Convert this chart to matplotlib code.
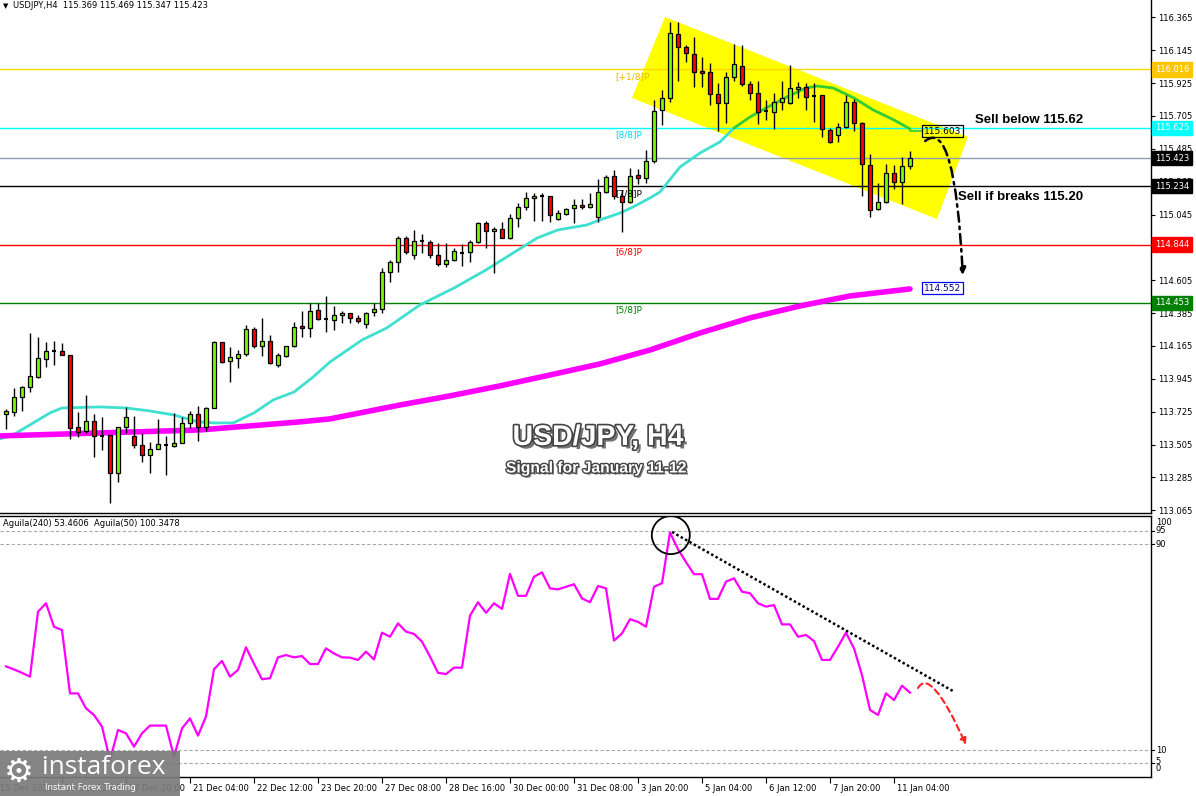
import matplotlib
matplotlib.use('Agg')
import numpy as np
import matplotlib.pyplot as plt
from matplotlib.patches import Polygon, Ellipse, FancyArrowPatch, Rectangle
from matplotlib.path import Path
import matplotlib.patheffects as pe

# ---------------- data ----------------
opens = [113.710, 113.724, 113.824, 113.891, 113.958, 114.078, 114.132, 114.132, 114.105, 113.623,
         113.596, 113.663, 113.563, 113.570, 113.315, 113.623, 113.563, 113.503, 113.436, 113.476,
         113.503, 113.496, 113.516, 113.650, 113.710, 113.623, 113.750, 114.192, 114.065, 114.085,
         114.112, 114.279, 114.165, 114.199, 114.038, 114.098, 114.165, 114.299, 114.286, 114.406,
         114.346, 114.339, 114.373, 114.386, 114.353, 114.313, 114.393, 114.413, 114.661, 114.727,
         114.888, 114.774, 114.868, 114.861, 114.774, 114.714, 114.741, 114.788, 114.794, 114.861,
         114.989, 114.935, 114.948, 114.888, 115.022, 115.096, 115.156, 115.169, 115.169, 115.015,
         115.049, 115.089, 115.109, 115.096, 115.029, 115.196, 115.303, 115.169, 115.129, 115.310,
         115.290, 115.403, 115.745, 115.825, 116.253, 116.166, 116.120, 116.006, 115.999, 115.852,
         115.792, 115.966, 116.039, 115.919, 115.859, 115.738, 115.731, 115.798, 115.792, 115.885,
         115.899, 115.838, 115.845, 115.611, 115.577, 115.631, 115.798, 115.658, 115.377, 115.082,
         115.129, 115.323, 115.263, 115.369]
highs = [113.744, 113.884, 113.898, 114.252, 114.226, 114.192, 114.199, 114.185, 114.105, 113.724,
         113.837, 113.710, 113.690, 113.570, 113.623, 113.757, 113.697, 113.583, 113.523, 113.677,
         113.563, 113.717, 113.690, 113.730, 113.764, 113.757, 114.199, 114.192, 114.159, 114.138,
         114.306, 114.292, 114.353, 114.239, 114.118, 114.165, 114.326, 114.400, 114.453, 114.453,
         114.500, 114.433, 114.400, 114.386, 114.373, 114.393, 114.453, 114.687, 114.741, 114.902,
         114.902, 114.942, 114.915, 114.875, 114.855, 114.855, 114.821, 114.848, 114.875, 114.995,
         115.002, 114.962, 114.995, 115.049, 115.122, 115.196, 115.189, 115.189, 115.169, 115.076,
         115.089, 115.149, 115.149, 115.189, 115.283, 115.310, 115.343, 115.209, 115.357, 115.350,
         115.477, 115.812, 115.879, 116.334, 116.334, 116.180, 116.233, 116.099, 116.059, 115.925,
         115.999, 116.186, 116.180, 115.939, 115.939, 115.812, 115.859, 115.939, 116.046, 115.932,
         115.925, 115.925, 115.845, 115.624, 115.658, 115.845, 115.818, 115.664, 115.450, 115.256,
         115.383, 115.377, 115.430, 115.469]
lows = [113.610, 113.697, 113.730, 113.857, 113.951, 114.025, 114.038, 114.105, 113.543, 113.556,
        113.583, 113.422, 113.469, 113.114, 113.255, 113.583, 113.482, 113.389, 113.315, 113.476,
        113.302, 113.489, 113.516, 113.616, 113.529, 113.596, 113.750, 114.051, 113.924, 114.018,
        114.098, 114.152, 114.098, 114.045, 114.025, 114.092, 114.159, 114.226, 114.226, 114.339,
        114.259, 114.272, 114.319, 114.319, 114.319, 114.286, 114.366, 114.386, 114.594, 114.661,
        114.781, 114.747, 114.788, 114.754, 114.701, 114.694, 114.734, 114.701, 114.727, 114.855,
        114.821, 114.654, 114.888, 114.881, 114.962, 115.076, 115.002, 115.002, 114.995, 115.009,
        115.042, 114.989, 115.082, 115.089, 114.995, 115.189, 115.149, 114.928, 115.122, 115.250,
        115.256, 115.390, 115.644, 115.798, 115.939, 116.066, 115.899, 115.899, 115.778, 115.604,
        115.658, 115.939, 115.905, 115.812, 115.651, 115.678, 115.618, 115.745, 115.785, 115.825,
        115.745, 115.664, 115.564, 115.524, 115.531, 115.624, 115.604, 115.169, 115.029, 115.076,
        115.122, 115.216, 115.116, 115.347]
closes = [113.730, 113.824, 113.891, 113.964, 114.085, 114.132, 114.132, 114.105, 113.616, 113.590,
          113.663, 113.563, 113.563, 113.315, 113.623, 113.690, 113.503, 113.436, 113.476, 113.509,
          113.503, 113.516, 113.650, 113.710, 113.623, 113.750, 114.192, 114.058, 114.092, 114.112,
          114.279, 114.165, 114.199, 114.051, 114.105, 114.165, 114.292, 114.286, 114.400, 114.346,
          114.346, 114.373, 114.386, 114.353, 114.333, 114.386, 114.413, 114.661, 114.727, 114.888,
          114.794, 114.868, 114.868, 114.774, 114.714, 114.741, 114.801, 114.788, 114.861, 114.989,
          114.935, 114.948, 114.888, 115.022, 115.096, 115.156, 115.169, 115.169, 115.042, 115.055,
          115.082, 115.109, 115.096, 115.116, 115.196, 115.296, 115.169, 115.129, 115.303, 115.290,
          115.403, 115.738, 115.825, 116.260, 116.166, 116.126, 115.999, 115.992, 115.852, 115.792,
          115.966, 116.053, 115.919, 115.859, 115.731, 115.738, 115.798, 115.825, 115.892, 115.899,
          115.832, 115.838, 115.618, 115.531, 115.631, 115.798, 115.658, 115.383, 115.076, 115.129,
          115.323, 115.263, 115.370, 115.423]

# moving average (fast) read at selected bar positions
ma_fast_idx = [-0.75, 0.9, 3.4, 5.5, 7, 11.75, 15, 18, 21, 24, 26, 28.4, 31, 33.4, 36, 38.4, 40.5,
               44.5, 47.6, 51.75, 56, 60, 64, 66.4, 69, 72.6, 74.25, 76.75, 78.4, 80.5, 81.75, 84.25,
               86.75, 89.25, 91, 93, 95, 97.6, 100, 101.4, 103.4, 106, 108.4, 111, 113]
ma_fast_val = [113.543, 113.570, 113.650, 113.717, 113.750, 113.757, 113.750, 113.730, 113.703,
               113.657, 113.650, 113.650, 113.717, 113.804, 113.857, 113.958, 114.058, 114.205,
               114.286, 114.440, 114.553, 114.674, 114.808, 114.888, 114.942, 114.975, 115.009,
               115.055, 115.096, 115.156, 115.196, 115.363, 115.457, 115.531, 115.624, 115.698,
               115.758, 115.832, 115.892, 115.905, 115.892, 115.825, 115.745, 115.678, 115.618]
ma_fast_turn = 91  # bar where the line turns green

ma_slow_idx = [-0.75, 11.75, 24.25, 36.75, 40.5, 49.25, 55.5, 61.75, 68, 74.25, 80.5, 86.75, 93,
               99.25, 105.5, 113]
ma_slow_val = [113.563, 113.583, 113.603, 113.657, 113.677, 113.770, 113.831, 113.898, 113.971,
               114.045, 114.138, 114.252, 114.353, 114.433, 114.500, 114.547]

aguila = [42.5, 41.3, 40.0, 38.5, 63.7, 67.0, 57.9, 56.6, 32.0, 32.0,
          26.2, 23.6, 19.1, 6.1, 17.8, 16.5, 11.3, 16.5, 19.5, 19.5,
          19.5, 7.4, 18.4, 22.3, 15.6, 23.0, 41.4, 44.6, 38.5, 41.1,
          49.9, 43.5, 37.5, 37.9, 46.0, 46.9, 46.0, 46.5, 43.4, 43.4,
          49.5, 47.5, 46.0, 45.9, 45.0, 48.2, 45.2, 55.6, 54.0, 59.2,
          56.0, 55.1, 52.1, 46.3, 40.0, 39.5, 42.0, 42.0, 62.2, 67.4,
          63.3, 67.0, 64.8, 78.4, 69.9, 69.9, 77.3, 79.0, 72.8, 72.4,
          73.4, 74.4, 68.9, 67.4, 73.7, 72.8, 52.5, 55.3, 60.8, 59.8,
          57.9, 73.4, 74.8, 94.5, 88.0, 83.0, 78.3, 78.3, 68.7, 68.7,
          75.4, 76.7, 71.5, 70.9, 67.0, 65.7, 66.3, 58.8, 58.8, 54.0,
          54.7, 52.3, 45.0, 45.0, 50.1, 55.6, 49.5, 39.1, 25.6, 23.6,
          32.0, 29.4, 35.0, 32.3]

level_values = [116.016, 115.625, 115.423, 115.234, 114.844, 114.453]
level_tags = ['[+1/8]P', '[8/8]P', '', '[7/8]P', '[6/8]P', '[5/8]P']
level_line_colors = ['#FFD700', '#00FFFF', '#8C9BB0', '#000000', '#FF0000', '#008000']
level_text_colors = ['#F2B800', '#00D8F0', '#000000', '#000000', '#FF0000', '#008000']
level_box_colors = ['#FFC600', '#00FFFF', '#000000', '#000000', '#FF0000', '#008000']

price_ticks = [116.365, 116.145, 115.925, 115.705, 115.485, 115.265, 115.045, 114.825, 114.605,
               114.385, 114.165, 113.945, 113.725, 113.505, 113.285, 113.065]

time_tick_idx = [7, 15, 23, 31, 39, 47, 55, 63, 71, 79, 87, 95, 103, 111]
time_tick_lbl = ['16 Dec 12:00', '17 Dec 20:00', '21 Dec 04:00', '22 Dec 12:00', '23 Dec 20:00',
                 '27 Dec 08:00', '28 Dec 16:00', '30 Dec 00:00', '31 Dec 08:00', '3 Jan 20:00',
                 '5 Jan 04:00', '6 Jan 12:00', '7 Jan 20:00', '11 Jan 04:00']
first_time_lbl = '15 Dec 2021'

ind_levels = [95, 90, 10, 5]
ind_labels = ['100', '95', '90', '10', '5', '0']
ind_label_pos = [98.2, 95.4, 90, 10, 5.4, 3.0]

ma_fast_last = 115.603
ma_slow_last = 114.552

# ---------------- figure ----------------
W, H = 1196, 796
fig = plt.figure(figsize=(W / 100, H / 100), dpi=100)
fig.patch.set_facecolor('white')
plt.rcParams['font.family'] = ['DejaVu Sans']

R = 1151  # right edge of plot area (px)
ax = fig.add_axes([0, 1 - 513 / H, R / W, 513 / H])
ax2 = fig.add_axes([0, 1 - 777 / H, R / W, (777 - 516) / H])

n = len(opens)
idx = np.arange(n)
XL = (-0.75, 143.125)
for a in (ax, ax2):
    a.set_xlim(*XL)
    a.set_facecolor('white')
    a.spines['left'].set_visible(False)
    for s in ('right', 'bottom', 'top'):
        a.spines[s].set_color('black')
        a.spines[s].set_linewidth(1.0)
ax.spines['top'].set_visible(False)
ax.set_ylim(113.047, 116.481)
ax2.set_ylim(-0.47, 100.9)

# --- channel
chan = Polygon([(82.375, 116.367), (120.25, 115.564), (116.375, 115.015), (78.25, 115.825)],
               closed=True, facecolor='#FFFF00', edgecolor='none', zorder=1)
ax.add_patch(chan)

# --- levels
for v, tag, lc, tc in zip(level_values, level_tags, level_line_colors, level_text_colors):
    ax.axhline(v, color=lc, lw=1.0, zorder=2)
    if tag:
        ax.text(76.1, v - 0.016, tag, color=tc, fontsize=6.5, va='top', ha='left', zorder=6)

# --- moving averages
mfi = np.array(ma_fast_idx)
mfv = np.array(ma_fast_val)
m1 = mfi <= ma_fast_turn
m2 = mfi >= ma_fast_turn
ax.plot(mfi[m1], mfv[m1], color='#40E0D0', lw=2.0, zorder=3, solid_capstyle='round')
ax.plot(mfi[m2], mfv[m2], color='#32CD32', lw=2.0, zorder=3, solid_capstyle='round')
ax.plot([mfi[-1], 114.5], [ma_fast_last, ma_fast_last], color='#32CD32', lw=1.2, zorder=3)
ax.plot(ma_slow_idx, ma_slow_val, color='#FF00FF', lw=4.0, zorder=3, solid_capstyle='round')

# --- candles
o = np.array(opens); h = np.array(highs); l = np.array(lows); c = np.array(closes)
ax.vlines(idx, l, h, color='black', lw=1.0, zorder=4)
up = c > o
dn = c < o
dj = c == o
bw = 0.62
ax.bar(idx[up], (c - o)[up], bottom=o[up], width=bw, color='#7CFC00', edgecolor='black',
       linewidth=0.9, zorder=5)
ax.bar(idx[dn], (o - c)[dn], bottom=c[dn], width=bw, color='#FF0000', edgecolor='black',
       linewidth=0.9, zorder=5)
ax.hlines(o[dj], idx[dj] - bw / 2, idx[dj] + bw / 2, color='black', lw=1.5, zorder=5)

# --- value labels at MA ends
ax.text(114.7, ma_fast_last, f'{ma_fast_last:.3f}', fontsize=6.5, color='black', va='center',
        ha='left', zorder=7,
        bbox=dict(boxstyle='square,pad=0.2', fc='none', ec='#000000', lw=0.9))
ax.text(114.7, ma_slow_last, f'{ma_slow_last:.3f}', fontsize=6.5, color='#000080', va='center',
        ha='left', zorder=7,
        bbox=dict(boxstyle='square,pad=0.2', fc='white', ec='#0000FF', lw=0.9))

# --- black dash-dot arrow
p_arrow = Path([(114.9, 115.537), (118.6, 115.700), (119.6, 114.640)],
               [Path.MOVETO, Path.CURVE3, Path.CURVE3])
arr = FancyArrowPatch(path=p_arrow, arrowstyle='-|>', mutation_scale=10, color='black',
                      lw=1.8, linestyle=(0, (4, 2, 1, 2)), zorder=7)
ax.add_patch(arr)

# --- right price axis
ax.yaxis.tick_right()
ax.set_yticks(price_ticks)
ax.set_yticklabels([f'{t:.3f}' for t in price_ticks])
ax.tick_params(axis='y', direction='out', length=3, width=0.8, labelsize=6, pad=2,
               colors='black')
ax.set_xticks([])
ytr = ax.get_yaxis_transform()
for v, bc in zip(level_values, level_box_colors):
    ax.text(1.0035, v, f'{v:.3f}', transform=ytr, fontsize=6, color='white', va='center',
            ha='left', zorder=10, clip_on=False,
            bbox=dict(boxstyle='square,pad=0.32', fc=bc, ec=bc))

# --- texts on chart
ax.text(975 / R, 1 - 120 / 513, 'Sell below 115.62', transform=ax.transAxes, fontsize=9.5,
        fontweight='bold', family='Liberation Sans', va='center', ha='left', zorder=8)
ax.text(958 / R, 1 - 197 / 513, 'Sell if breaks 115.20', transform=ax.transAxes, fontsize=9.5,
        fontweight='bold', family='Liberation Sans', va='center', ha='left', zorder=8)

fx_title = [pe.SimplePatchShadow(offset=(2.5, -2.5), shadow_rgbFace='black', alpha=0.55),
            pe.Stroke(linewidth=2.4, foreground='#444444'), pe.Normal()]
ax.text(598 / R, 1 - 438 / 513, 'USD/JPY, H4', transform=ax.transAxes, fontsize=20.5,
        fontweight='bold', family='Liberation Sans', color='white', ha='center', va='center',
        path_effects=fx_title, zorder=9)
fx_sub = [pe.SimplePatchShadow(offset=(1.5, -1.5), shadow_rgbFace='black', alpha=0.5),
          pe.Stroke(linewidth=2.0, foreground='#444444'), pe.Normal()]
ax.text(597 / R, 1 - 468 / 513, 'Signal for January 11-12', transform=ax.transAxes,
        fontsize=11.3, fontweight='bold', family='Liberation Sans', color='white', ha='center',
        va='center', path_effects=fx_sub, zorder=9)

ax.text(3 / R, 1 - 6 / 513, '\u25BC', transform=ax.transAxes, fontsize=5, va='center',
        ha='left')
ax.text(13 / R, 1 - 6 / 513, 'USDJPY,H4  115.369 115.469 115.347 115.423',
        transform=ax.transAxes, fontsize=6, va='center', ha='left')

# ---------------- indicator ----------------
for lv in ind_levels:
    ax2.axhline(lv, color='#A8A8A8', lw=0.8, ls=(0, (3, 2)), zorder=1)
ax2.plot(idx, aguila, color='#FF00FF', lw=1.6, zorder=3)

# trend line and circle
ax2.plot([83.25, 118.6], [94.7, 32.5], color='black', lw=1.8, ls=(0, (1, 1)), zorder=4)
ax2.add_patch(Ellipse((83.1, 93.5), 4.75, 14.8, fill=False, ec='black', lw=1.3, zorder=5))
p_red = Path([(114.0, 34.1), (115.6, 42.5), (120.0, 12.0)], [Path.MOVETO, Path.CURVE3, Path.CURVE3])
ax2.add_patch(FancyArrowPatch(path=p_red, arrowstyle='-|>', mutation_scale=9, color='#FF2020',
                              lw=1.5, linestyle=(0, (3, 2)), zorder=5))

ax2.set_yticks([])
ytr2 = ax2.get_yaxis_transform()
for lbl, pos in zip(ind_labels, ind_label_pos):
    ax2.text(1.004, pos, lbl, transform=ytr2, fontsize=6, va='center', ha='left', clip_on=False)
for lv in [95, 90, 10, 5]:
    ax2.plot([1.0, 1.003], [lv, lv], transform=ytr2, color='black', lw=0.8, clip_on=False)

ax2.text(3 / R, 1 - 8 / 261, 'Aguila(240) 53.4606  Aguila(50) 100.3478', transform=ax2.transAxes,
         fontsize=6, va='center', ha='left')

ax2.set_xticks(time_tick_idx)
ax2.set_xticklabels([])
ax2.tick_params(axis='x', direction='out', length=4, width=0.8)
xtr2 = ax2.get_xaxis_transform()
for ti, tl in zip(time_tick_idx, time_tick_lbl):
    ax2.text(ti + 0.35, -0.028, tl, transform=xtr2, fontsize=6, va='top', ha='left',
             clip_on=False)
ax2.text(0.0, -0.028, first_time_lbl, transform=ax2.transAxes, fontsize=6, va='top', ha='left',
         clip_on=False)

# ---------------- watermark ----------------
fig.add_artist(Rectangle((0, 0), 180 / W, 45 / H, transform=fig.transFigure, facecolor='#7b7b7b',
                         edgecolor='none', alpha=0.92, zorder=20))
fig.text(4 / W, 1 - 772 / H, '\u2699', fontsize=24, color='white', va='center', ha='left',
         zorder=21)
fig.text(42 / W, 1 - 767 / H, 'instaforex', fontsize=19, color='white', va='center', ha='left',
         family='Open Sans', zorder=21)
fig.text(45 / W, 1 - 788 / H, 'Instant Forex Trading', fontsize=6.2, color='white', va='center',
         ha='left', zorder=21)

fig.savefig('out.png', dpi=100, facecolor='white')
